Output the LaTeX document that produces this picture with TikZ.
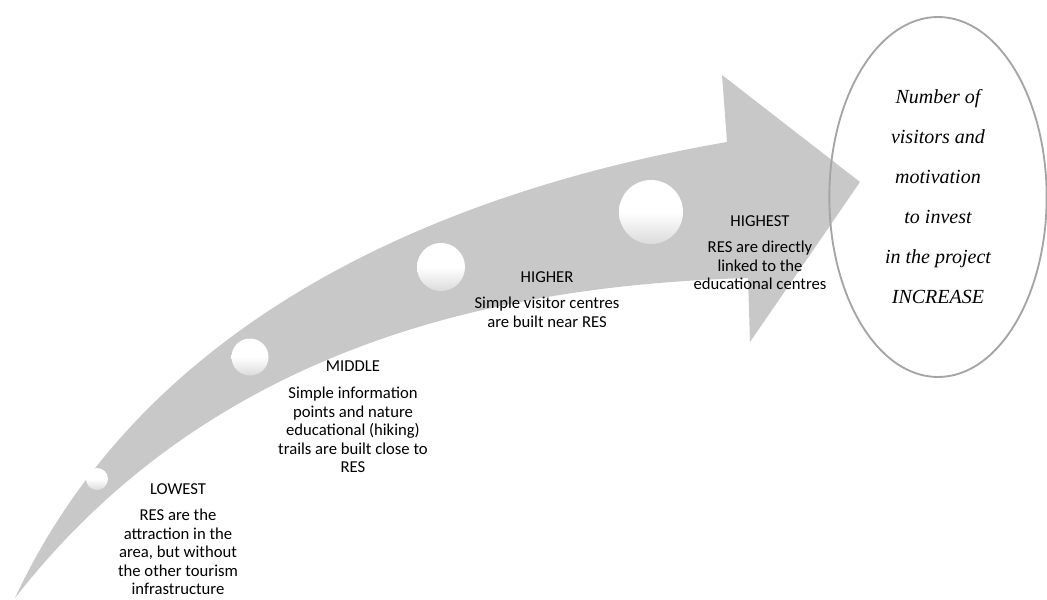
\documentclass[tikz,border=0pt]{standalone}
\usepackage{fontspec}
\usepackage{tikz}
\usetikzlibrary{shapes.geometric}
\newfontfamily\stepfont{Carlito}
\newfontfamily\goalfont{Liberation Serif}
\definecolor{arrowgray}{RGB}{200,200,200}
\definecolor{rimgray}{RGB}{165,165,165}
\tikzset{
    steptext/.style={font=\stepfont\fontsize{12.5}{13.9}\selectfont, align=center, anchor=north, inner sep=0pt},
    ball/.style={top color=white, bottom color=black!14, middle color=white},
    goal/.style={ellipse, draw=rimgray, line width=1.4pt, minimum width=163pt, minimum height=270pt,
        inner sep=0pt, align=center, font=\goalfont\itshape\fontsize{15}{30}\selectfont}
}

\begin{document}
\begin{tikzpicture}[x=0.75pt, y=-0.75pt]
        \useasboundingbox (0,0) rectangle (1047,600);
        \fill[arrowgray] (15,598) .. controls (140,330) and (420,195) .. (727,142)
            -- (722,75) -- (860,182) -- (750,342) -- (748,278)
            .. controls (520,285) and (220,335) .. (15,598) -- cycle;
        \foreach \x/\y/\r in {97/479/11, 250/357/18.5, 441/267/24, 651/212/32} {
            \shade[ball] (\x,\y) circle [radius=\r];
        }
        \node[steptext] (lowest) at (178,483) {LOWEST\\[6pt]RES are the\\attraction in the\\area, but without\\the other tourism\\infrastructure};
        \node[steptext] (middle) at (353,361) {MIDDLE\\[6pt]Simple information\\points and nature\\educational (hiking)\\trails are built close to\\RES};
        \node[steptext] (higher) at (547,271) {HIGHER\\[6pt]Simple visitor centres\\are built near RES};
        \node[steptext] (highest) at (760,215) {HIGHEST\\[6pt]RES are directly\\linked to the\\educational centres};
        \node[goal] (increase) at (938,197) {Number of\\visitors and\\motivation\\to invest\\in the project\\INCREASE};
    \end{tikzpicture}
\end{document}
